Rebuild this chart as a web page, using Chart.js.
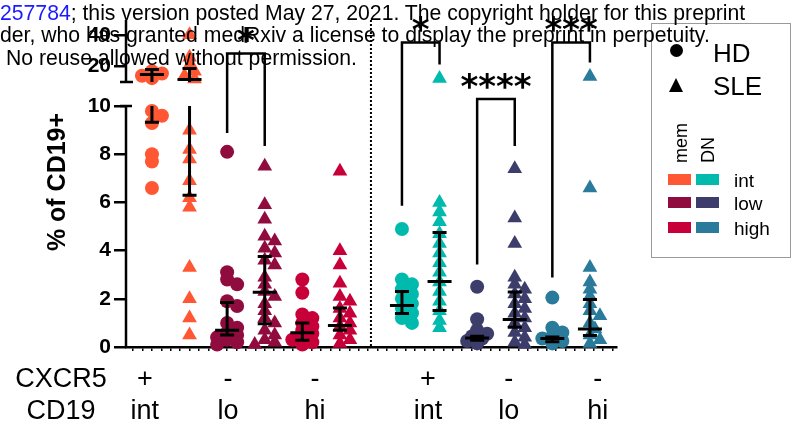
<!DOCTYPE html>
<html>
<head>
<meta charset="utf-8">
<script src="https://cdn.jsdelivr.net/npm/chart.js@4/dist/chart.umd.min.js"></script>
<style>
  body { margin: 0; background: #fff; }
  #wrap { position: relative; width: 799px; height: 430px; overflow: hidden; font-family: "Liberation Sans", Arial, sans-serif; }
  #chart { position: absolute; left: 0; top: 0; }
  .hdr { position: absolute; font-size: 21.2px; line-height: 21px; white-space: nowrap; color: #000; }
  .hdr a { color: #1a1aff; text-decoration: none; }
  #legend { position: absolute; left: 651px; top: 23px; width: 140px; height: 235px; border: 1.5px solid #9a9a9a; box-sizing: border-box; }
  .lg { position: absolute; white-space: nowrap; color: #000; }
  .sw { position: absolute; width: 23px; height: 11px; }
</style>
</head>
<body>
<div id="wrap">
  <canvas id="chart" width="799" height="430"></canvas>
  <div id="legendBox"></div>
  <div class="hdr" style="left:0;top:2px"><a>257784</a>; this version posted May 27, 2021. The copyright holder for this preprint</div>
  <div class="hdr" style="left:0;top:24px">der, who has granted medRxiv a license to display the preprint in perpetuity.</div>
  <div class="hdr" style="left:6px;top:47px">No reuse allowed without permission.</div>
</div>
<script>
// Groups: B cell subset x disease
const groupNames = ['mem int HD', 'mem int SLE', 'mem low HD', 'mem low SLE', 'mem high HD', 'mem high SLE',
                    'DN int HD', 'DN int SLE', 'DN low HD', 'DN low SLE', 'DN high HD', 'DN high SLE'];
const groupX = [1, 2, 3, 4, 5, 6, 7.65, 8.65, 9.65, 10.65, 11.65, 12.65];

// % of CD19+ per sample
const memIntHD   = [17, 15.5, 14, 12.5, 9.8, 9.6, 9.3, 8.0, 7.7, 6.6];
const memIntSLE  = [40.5, 26, 21, 17, 14, 12, 9.0, 8.2, 7.8, 6.9, 6.2, 5.8, 3.3, 2.0, 1.2, 0.5];
const memLowHD   = [8.1, 3.1, 2.8, 2.6, 1.9, 1.7, 1.0, 0.8, 0.6, 0.5, 0.4, 0.3, 0.2, 0.1];
const memLowSLE  = [7.5, 5.9, 5.3, 4.6, 4.4, 4.1, 3.9, 3.6, 3.4, 2.9, 2.6, 2.3, 2.1, 1.8, 1.5, 1.2, 1.0, 0.7, 0.5, 0.3, 0.2, 0.1];
const memHighHD  = [2.8, 2.25, 1.35, 1.2, 1.0, 0.85, 0.7, 0.55, 0.4, 0.3, 0.2, 0.1];
const memHighSLE = [7.3, 4.0, 3.4, 2.65, 2.1, 1.9, 1.6, 1.4, 1.2, 1.0, 0.85, 0.7, 0.5, 0.3, 0.15];
const dnIntHD    = [4.9, 2.8, 2.6, 2.4, 2.2, 2.0, 1.8, 1.6, 1.4, 1.2, 1.0];
const dnIntSLE   = [12.3, 6.0, 5.6, 5.2, 4.7, 4.3, 3.9, 3.5, 3.1, 2.7, 2.3, 1.9, 1.5, 1.1, 0.8];
const dnLowHD    = [2.5, 1.15, 0.7, 0.55, 0.45, 0.35, 0.25, 0.15];
const dnLowSLE   = [7.4, 5.35, 4.3, 2.9, 2.6, 2.4, 2.2, 2.0, 1.8, 1.6, 1.4, 1.2, 1.0, 0.8, 0.6, 0.4, 0.2, 0.1];
const dnHighHD   = [2.05, 0.8, 0.6, 0.45, 0.35, 0.25, 0.15];
const dnHighSLE  = [13.5, 6.6, 3.3, 2.7, 2.4, 2.1, 1.8, 1.5, 1.3, 1.0, 0.75, 0.5, 0.3, 0.15];
const groupValues = [memIntHD, memIntSLE, memLowHD, memLowSLE, memHighHD, memHighSLE,
                     dnIntHD, dnIntSLE, dnLowHD, dnLowSLE, dnHighHD, dnHighSLE];

// summary line and whiskers
const centerVals = [14.8, 11.6, 0.7, 2.27, 0.59, 0.89, 1.72, 2.72, 0.37, 1.14, 0.35, 0.75];
const whiskLow   = [9.33, 6.3, 0.5, 0.97, 0.28, 0.70, 1.39, 1.51, 0.28, 0.82, 0.22, 0.48];
const whiskHigh  = [18.1, 18.7, 1.85, 3.76, 1.0, 1.62, 2.3, 4.75, 0.45, 2.28, 0.42, 1.97];

// significance brackets
const sigPairs    = [[2, 3], [6, 7], [8, 9], [10, 11]];
const sigText     = ['*', '*', '****', '***'];
const sigTop      = [28.4, 35.5, 10.29, 35.5];
const sigLegLeft  = [8.88, 5.86, 3.42, 2.88];
const sigLegRight = [8.34, 21.3, 8.34, 22.6];

// axis ticks (broken axis)
const lowTicks  = [0, 2, 4, 6, 8, 10];
const highTicks = [20, 40];

// x labels below the axis
const cxcr5Labels = ['+', '-', '-', '+', '-', '-'];
const cd19Labels  = ['int', 'lo', 'hi', 'int', 'lo', 'hi'];
const labelX      = [0.81, 3.02, 5.34, 8.34, 10.49, 12.86];

const colors = ['#FF5733', '#FF5733', '#900C3F', '#900C3F', '#C70039', '#C70039',
                '#00BAAD', '#00BAAD', '#3D3D6B', '#3D3D6B', '#2A7B9B', '#2A7B9B'];
const BREAK = 10.5;
const FONT = '"Liberation Sans", Arial, sans-serif';

// Build datasets: each group split by the axis segment it falls in
const datasets = [];
const dsIndex = [];
groupValues.forEach((vals, g) => {
  const tri = g % 2 === 1;
  ['yLow', 'yHigh'].forEach(axis => {
    const part = vals.filter(v => axis === 'yHigh' ? v > BREAK : v <= BREAK);
    if (!part.length) return;
    dsIndex.push({ g, axis, vals: part });
    datasets.push({
      label: groupNames[g],
      yAxisID: axis,
      data: part.map(v => ({ x: groupX[g], y: v })),
      pointStyle: tri ? 'triangle' : 'circle',
      pointRadius: tri ? 8.5 : 7,
      backgroundColor: colors[g],
      borderWidth: 0,
      clip: false
    });
  });
});

function yPix(chart, v) {
  return v > BREAK ? chart.scales.yHigh.getPixelForValue(v) : chart.scales.yLow.getPixelForValue(v);
}

// vertical segment that may cross the axis break
function vSeg(ctx, chart, x, a, b) {
  const lo = Math.min(a, b), hi = Math.max(a, b);
  const L = chart.scales.yLow, H = chart.scales.yHigh;
  ctx.beginPath();
  if (hi <= BREAK) {
    ctx.moveTo(x, L.getPixelForValue(lo)); ctx.lineTo(x, L.getPixelForValue(hi));
  } else if (lo > BREAK) {
    ctx.moveTo(x, H.getPixelForValue(lo)); ctx.lineTo(x, H.getPixelForValue(hi));
  } else {
    ctx.moveTo(x, L.getPixelForValue(lo)); ctx.lineTo(x, L.getPixelForValue(10));
    ctx.moveTo(x, H.getPixelForValue(H.min)); ctx.lineTo(x, H.getPixelForValue(hi));
  }
  ctx.stroke();
}

const decor = {
  id: 'decor',
  beforeDatasetsDraw(chart) {
    const ctx = chart.ctx, area = chart.chartArea;
    const L = chart.scales.yLow, H = chart.scales.yHigh, X = chart.scales.x;
    ctx.save();
    ctx.strokeStyle = '#000';
    ctx.lineWidth = 2.5;
    // broken y axis
    ctx.beginPath();
    ctx.moveTo(area.left, L.getPixelForValue(0)); ctx.lineTo(area.left, L.getPixelForValue(10));
    ctx.moveTo(area.left - 6, L.getPixelForValue(10)); ctx.lineTo(area.left + 6, L.getPixelForValue(10));
    ctx.moveTo(area.left, H.getPixelForValue(H.max)); ctx.lineTo(area.left, H.getPixelForValue(H.min));
    ctx.moveTo(area.left - 6, H.getPixelForValue(H.min)); ctx.lineTo(area.left + 7, H.getPixelForValue(H.min));
    ctx.stroke();
    // dotted separator between mem and DN
    const sx = X.getPixelForValue((groupX[5] + groupX[6]) / 2);
    ctx.setLineDash([2, 2]);
    ctx.lineWidth = 2;
    ctx.beginPath();
    ctx.moveTo(sx, area.top); ctx.lineTo(sx, area.bottom);
    ctx.stroke();
    ctx.restore();
  },
  afterDatasetsDraw(chart) {
    const ctx = chart.ctx, X = chart.scales.x;
    ctx.save();
    ctx.strokeStyle = '#000';
    ctx.lineWidth = 3;
    // whiskers + centre line
    groupX.forEach((gx, g) => {
      const x = X.getPixelForValue(gx);
      vSeg(ctx, chart, x, whiskLow[g], whiskHigh[g]);
      ctx.beginPath();
      [whiskLow[g], whiskHigh[g]].forEach(v => {
        const y = yPix(chart, v);
        ctx.moveTo(x - 7, y); ctx.lineTo(x + 7, y);
      });
      const yc = yPix(chart, centerVals[g]);
      ctx.moveTo(x - 12, yc); ctx.lineTo(x + 12, yc);
      ctx.stroke();
    });
    // significance brackets
    ctx.lineWidth = 2.5;
    ctx.lineJoin = 'miter';
    sigPairs.forEach(([a, b], i) => {
      const xa = X.getPixelForValue(groupX[a]), xb = X.getPixelForValue(groupX[b]);
      const yt = yPix(chart, sigTop[i]);
      ctx.beginPath();
      ctx.moveTo(xa, yPix(chart, sigLegLeft[i]));
      ctx.lineTo(xa, yt); ctx.lineTo(xb, yt);
      ctx.lineTo(xb, yPix(chart, sigLegRight[i]));
      ctx.stroke();
      ctx.fillStyle = '#000';
      ctx.font = 'bold 34px "DejaVu Sans"';
      ctx.textAlign = 'center';
      ctx.textBaseline = 'alphabetic';
      ctx.letterSpacing = '0px';
      ctx.fillText(sigText[i], (xa + xb) / 2, yt - 1);
    });
    // y title
    ctx.fillStyle = '#000';
    ctx.font = 'bold 25px ' + FONT;
    ctx.textAlign = 'center';
    ctx.textBaseline = 'middle';
    ctx.save();
    ctx.translate(58, 182);
    ctx.rotate(-Math.PI / 2);
    ctx.fillText('% of CD19+', 0, 0);
    ctx.restore();
    // category rows under the axis
    ctx.font = '27px ' + FONT;
    ctx.textBaseline = 'alphabetic';
    ctx.fillText('CXCR5', 61, 387);
    ctx.fillText('CD19', 61, 419);
    labelX.forEach((lx, i) => {
      const x = X.getPixelForValue(lx);
      ctx.fillText(cxcr5Labels[i], x, 387);
      ctx.fillText(cd19Labels[i], x, 419);
    });
    ctx.restore();
  }
};

const tickFont = { family: FONT, size: 21, weight: 'bold' };
const yGrid = { drawOnChartArea: false, drawTicks: true, tickLength: 12, lineWidth: 2.5, color: '#000' };

const chart = new Chart(document.getElementById('chart'), {
  type: 'scatter',
  data: { datasets },
  options: {
    responsive: false,
    animation: false,
    events: [],
    layout: { padding: { left: 0, top: 20, right: 182, bottom: 0 } },
    plugins: { legend: { display: false }, tooltip: { enabled: false } },
    scales: {
      x: {
        type: 'linear', min: 0.31, max: 13.37,
        afterFit: s => { s.height = 83; },
        afterBuildTicks: s => {
          const t = [];
          for (let v = 0.5; v < 13.37; v += 0.25) t.push({ value: v });
          s.ticks = t;
        },
        ticks: { display: false, autoSkip: false },
        grid: { drawOnChartArea: false, drawTicks: true, tickLength: 4, lineWidth: 1.5, color: '#000' },
        border: { display: true, color: '#000', width: 2.5 }
      },
      // lower segment (listed first so it sits at the bottom of the stack)
      yLow: {
        type: 'linear', position: 'left', stack: 'y', stackWeight: 265,
        min: 0, max: 11,
        afterBuildTicks: s => { s.ticks = lowTicks.map(v => ({ value: v })); },
        afterFit: s => { s.width = 126; },
        ticks: { font: tickFont, color: '#000', padding: 3 },
        grid: yGrid,
        border: { display: false }
      },
      yHigh: {
        type: 'linear', position: 'left', stack: 'y', stackWeight: 62,
        min: 10, max: 50,
        afterBuildTicks: s => { s.ticks = highTicks.map(v => ({ value: v })); },
        afterFit: s => { s.width = 126; },
        ticks: { font: tickFont, color: '#000', padding: 3 },
        grid: yGrid,
        border: { display: false }
      }
    }
  },
  plugins: [decor]
});

// spread overlapping points sideways (simple beeswarm on screen pixels)
function swarm() {
  const X = chart.scales.x;
  const unit = X.getPixelForValue(1) - X.getPixelForValue(0);
  const step = 5, minD = 7;
  const offsets = [0, 1, -1, 2, -2];
  groupValues.forEach((vals, g) => {
    const placed = [];
    const dx = new Map();
    vals.forEach((v, i) => {
      const py = yPix(chart, v);
      let best = 0, bestD = -1;
      for (const k of offsets) {
        const c = k * step;
        const d = placed.length ? Math.min(...placed.map(q => Math.hypot(q.dx - c, q.py - py))) : Infinity;
        if (d >= minD) { best = c; bestD = d; break; }
        if (d > bestD) { bestD = d; best = c; }
      }
      placed.push({ dx: best, py });
      dx.set(i, best);
    });
    dsIndex.forEach((info, di) => {
      if (info.g !== g) return;
      chart.data.datasets[di].data = info.vals.map(v => {
        const i = vals.indexOf(v);
        return { x: groupX[g] + dx.get(i) / unit, y: v };
      });
    });
  });
  chart.update('none');
}
swarm();

// legend
function buildLegend() {
  const box = document.getElementById('legendBox');
  box.innerHTML = `
    <div id="legend"></div>
    <div class="lg" style="left:670px;top:44px;width:13px;height:13px;border-radius:50%;background:#000"></div>
    <div class="lg" style="left:713px;top:40px;font-size:26px;line-height:26px">HD</div>
    <div class="lg" style="left:669px;top:78px;width:0;height:0;border-left:7.5px solid transparent;border-right:7.5px solid transparent;border-bottom:14px solid #000"></div>
    <div class="lg" style="left:713px;top:73px;font-size:26px;line-height:26px">SLE</div>
    <div class="lg" style="left:672px;top:163px;font-size:18px;line-height:18px;transform-origin:0 0;transform:rotate(-90deg)">mem</div>
    <div class="lg" style="left:699px;top:163px;font-size:18px;line-height:18px;transform-origin:0 0;transform:rotate(-90deg)">DN</div>`;
  const rows = [['int', 174, colors[0], colors[6]], ['low', 197, colors[2], colors[8]], ['high', 222, colors[4], colors[10]]];
  rows.forEach(([txt, y, c1, c2]) => {
    box.insertAdjacentHTML('beforeend',
      `<div class="sw" style="left:668px;top:${y}px;background:${c1}"></div>
       <div class="sw" style="left:696px;top:${y}px;background:${c2}"></div>
       <div class="lg" style="left:734px;top:${y - 3}px;font-size:19px;line-height:19px">${txt}</div>`);
  });
}
buildLegend();
</script>
</body>
</html>
